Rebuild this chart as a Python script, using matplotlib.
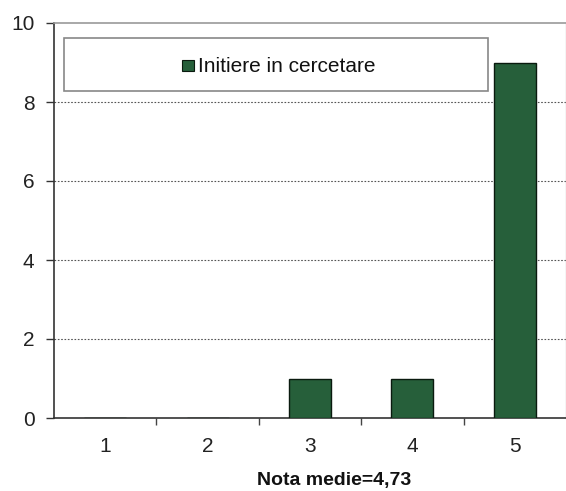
import matplotlib
matplotlib.use("Agg")
import matplotlib.pyplot as plt
from matplotlib.patches import Rectangle

categories = [1, 2, 3, 4, 5]
values = [0, 0, 1, 1, 9]
series_name = "Initiere in cercetare"
xlabel = "Nota medie=4,73"
yticks = [0, 2, 4, 6, 8, 10]

plt.rcParams['font.family'] = ['Liberation Sans', 'DejaVu Sans']

fig = plt.figure(figsize=(5.66, 4.91), dpi=100)
ax = fig.add_axes([54/566, 1-418/491, (566-54)/566, (418-23)/491])

bar_color = '#265f3a'
ax.bar(categories, values, width=0.41, color=bar_color, edgecolor='#0a1a0f', linewidth=1.0, zorder=3)

ax.set_xlim(0.5, 5.5)
ax.set_ylim(0, 10)
ax.set_yticks(yticks)
ax.set_xticks(categories)
ax.set_xticks([1.5, 2.5, 3.5, 4.5], minor=True)
ax.tick_params(axis='x', which='major', length=0, labelsize=15, pad=14)
ax.tick_params(axis='x', which='minor', length=5, width=1, direction='out', color='#444444')
ax.tick_params(axis='y', length=6, width=1, direction='out', labelsize=15, pad=8, color='#333333')
ax.tick_params(axis='both', labelcolor='#222222')

for y in [2, 4, 6, 8]:
    ax.axhline(y, color='#555555', linestyle=(0, (1.5, 1.5)), linewidth=0.8, zorder=1)

for s in ['left', 'bottom']:
    ax.spines[s].set_color('#333333')
    ax.spines[s].set_linewidth(1.2)
ax.spines['top'].set_color('#999999')
ax.spines['top'].set_linewidth(1.2)
ax.spines['right'].set_color('#cccccc')
ax.spines['right'].set_linewidth(1.0)

ax.set_xlabel(xlabel, fontsize=14, fontweight='bold', labelpad=11, color='#111111')
ax.xaxis.label.set_x(0.547)

# legend box
leg = Rectangle((0.6, 8.27), 4.14, 1.35, facecolor='white', edgecolor='#888888', linewidth=1.2, zorder=4)
ax.add_patch(leg)
ax.add_patch(Rectangle((1.748, 8.78), 0.115, 0.28, facecolor=bar_color, edgecolor='#0a1a0f', linewidth=0.8, zorder=5))
ax.text(1.91, 8.91, series_name, fontsize=15, va='center', ha='left', color='#111111', zorder=5)

fig.savefig("out.png", dpi=100)
